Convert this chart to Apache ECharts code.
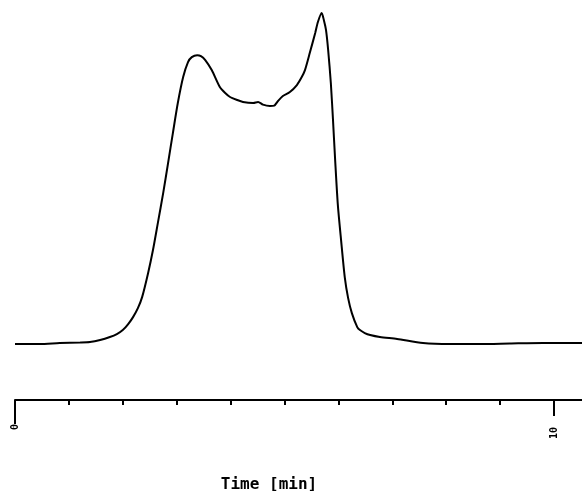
<!DOCTYPE html>
<html>
<head>
<meta charset="utf-8">
<script src="https://cdn.jsdelivr.net/npm/echarts@6/dist/echarts.min.js"></script>
<style>
  html, body { margin: 0; padding: 0; background: #fff; }
  #chart { width: 582px; height: 491px; }
</style>
</head>
<body>
<div id="chart"></div>
<script>
// Detector trace: retention time (min) and relative signal
const timeMin = [
  0, 0.46, 0.83, 1.21, 1.39, 1.58, 1.76, 1.89, 2.00, 2.10, 2.19, 2.28, 2.36,
  2.47, 2.56, 2.65, 2.75, 2.84, 2.93, 3.02, 3.12, 3.21, 3.28, 3.38, 3.45, 3.53,
  3.65, 3.80, 3.90, 3.99, 4.12, 4.23, 4.42, 4.51, 4.60, 4.73, 4.81, 4.88, 4.97,
  5.10, 5.23, 5.32, 5.38, 5.47, 5.57, 5.62, 5.69, 5.73, 5.77, 5.81, 5.86, 5.90,
  5.94, 5.99, 6.05, 6.12, 6.18, 6.25, 6.35, 6.40, 6.49, 6.59, 6.77, 7.09, 7.57,
  8.07, 8.63, 9.18, 9.80, 10.52
];
const signal = [
  0, 0, 0.3, 0.45, 0.6, 1.2, 2.1, 3.0, 4.2, 6.0, 8.1, 10.8, 14.2,
  21.4, 28.3, 36.4, 45.5, 54.5, 63.6, 72.5, 80.4, 84.9, 86.4, 87.0, 86.7, 85.5,
  82.5, 77.4, 75.6, 74.4, 73.5, 72.9, 72.6, 72.9, 72.1, 71.7, 71.8, 73.2, 74.7,
  75.9, 78.0, 80.4, 82.5, 87.7, 93.7, 97.0, 99.7, 97.6, 94.6, 88.6, 78.6, 67.5,
  55.4, 41.9, 31.3, 19.9, 13.9, 9.3, 5.1, 4.2, 3.3, 2.7, 2.1, 1.5, 0.3,
  0, 0, 0.15, 0.3, 0.3
];
// Axis ticks
const minorTicks = [1, 2, 3, 4, 5, 6, 7, 8, 9];
const startTick = [0];
const endTick = [10];
const axisTitle = 'Time [min]';

const tMax = 10.52;
const ink = '#000';
const monoFont = 'DejaVu Sans Mono';

const baseAxis = {
  type: 'value',
  min: 0,
  max: tMax,
  position: 'bottom',
  offset: 56,
  splitLine: { show: false },
  axisLine: { show: false, onZero: false }
};

const chart = echarts.init(document.getElementById('chart'), null, { renderer: 'canvas' });
chart.setOption({
  animation: false,
  backgroundColor: '#fff',
  title: {
    text: axisTitle,
    left: 264,
    top: 472,
    textAlign: 'center',
    textStyle: { fontFamily: monoFont, fontSize: 16, fontWeight: 'bold', color: ink }
  },
  grid: { left: 15, right: 0, top: 12, bottom: 147, containLabel: false },
  xAxis: [
    Object.assign({}, baseAxis, {
      axisLine: { show: true, onZero: false, lineStyle: { color: ink, width: 2 } },
      axisTick: { show: true, customValues: minorTicks, length: 5, lineStyle: { color: ink, width: 2 } },
      axisLabel: { show: false }
    }),
    Object.assign({}, baseAxis, {
      axisTick: { show: true, customValues: startTick, length: 24, lineStyle: { color: ink, width: 2 } },
      axisLabel: {
        show: true, customValues: startTick, rotate: 90, margin: 24,
        fontFamily: monoFont, fontSize: 10, fontWeight: 'bold', color: ink
      }
    }),
    Object.assign({}, baseAxis, {
      axisTick: { show: true, customValues: endTick, length: 16, lineStyle: { color: ink, width: 2 } },
      axisLabel: {
        show: true, customValues: endTick, rotate: 90, margin: 27,
        fontFamily: monoFont, fontSize: 10, fontWeight: 'bold', color: ink
      }
    })
  ],
  yAxis: { type: 'value', min: 0, max: 100, show: false },
  series: [{
    type: 'line',
    xAxisIndex: 0,
    data: timeMin.map((t, i) => [t, signal[i]]),
    showSymbol: false,
    smooth: 0.25,
    lineStyle: { color: ink, width: 2 }
  }]
});
</script>
</body>
</html>
